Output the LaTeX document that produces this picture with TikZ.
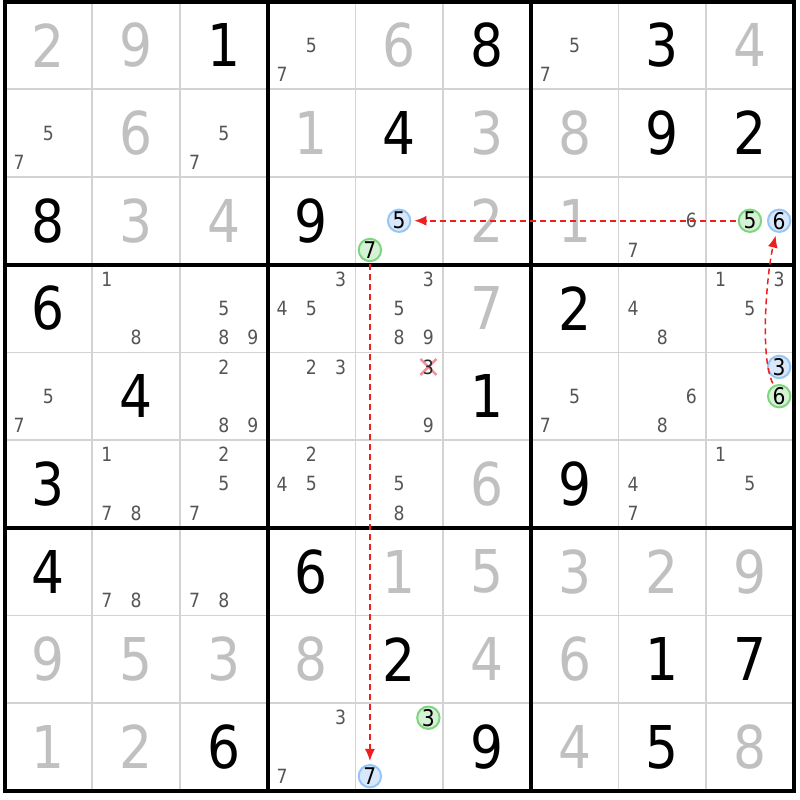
\documentclass[tikz,border=0pt]{standalone}
\usepackage{fontspec}
\setmainfont[FakeStretch=0.88]{DejaVu Sans}
\usetikzlibrary{arrows.meta,calc}
\definecolor{givgray}{RGB}{192,192,192}
\definecolor{candgray}{RGB}{85,85,85}
\definecolor{gridgray}{RGB}{211,211,211}
\definecolor{gfill}{RGB}{214,242,214}
\definecolor{gdraw}{RGB}{125,214,125}
\definecolor{bfill}{RGB}{216,232,250}
\definecolor{bdraw}{RGB}{150,198,245}
\definecolor{linkred}{RGB}{240,30,30}
\definecolor{crossred}{RGB}{245,140,150}
\begin{document}
\begin{tikzpicture}[x=0.5pt,y=-0.5pt,
  bigdig/.style={font=\fontsize{29.5}{30}\selectfont,inner sep=0pt},
  given/.style={bigdig,text=black},
  solved/.style={bigdig,text=givgray},
  cand/.style={font=\fontsize{9.8}{10}\selectfont,text=candgray,inner sep=0pt},
  circmark/.style={circle,line width=1pt,minimum size=11.2pt,inner sep=0pt,text=black,font=\fontsize{11.5}{12}\selectfont},
  gcirc/.style={circmark,draw=gdraw,fill=gfill},
  bcirc/.style={circmark,draw=bdraw,fill=bfill},
  link/.style={draw=linkred,dash pattern=on 3pt off 2pt,line width=0.75pt,-{Latex[length=6pt,width=5pt]},shorten >=1.5pt,shorten <=1pt},
  thinline/.style={draw=gridgray,line width=0.75pt},
  thickline/.style={draw=black,line width=2pt},
]
\useasboundingbox (0,0) rectangle (800,800);
\fill[white] (0,0) rectangle (800,800);
% grid
\foreach \i in {1,2,4,5,7,8}{
  \draw[thinline] ({4.5+\i*87.7},1.5) -- ({4.5+\i*87.7},790.8);
  \draw[thinline] (4.5,{1.5+\i*87.7}) -- (793.8,{1.5+\i*87.7});
}
\foreach \i in {3,6}{
  \draw[thickline] ({4.5+\i*87.7},1.5) -- ({4.5+\i*87.7},790.8);
  \draw[thickline] (4.5,{1.5+\i*87.7}) -- (793.8,{1.5+\i*87.7});
}
\draw[thickline] (4.5,1.5) rectangle (793.8,790.8);
% given digits
\foreach \r/\c/\d in {1/3/1,1/6/8,1/8/3,2/5/4,2/8/9,2/9/2,3/1/8,3/4/9,4/1/6,4/7/2,5/2/4,5/6/1,6/1/3,6/7/9,7/1/4,7/4/6,8/5/2,8/8/1,8/9/7,9/3/6,9/6/9,9/8/5}{
  \node[given] (v-\r-\c) at ({4.5+(\c-0.5)*87.7},{1.5+(\r-0.5)*87.7}) {\d};
}
% solved digits
\foreach \r/\c/\d in {1/1/2,1/2/9,1/5/6,1/9/4,2/2/6,2/4/1,2/6/3,2/7/8,3/2/3,3/3/4,3/6/2,3/7/1,4/6/7,6/6/6,7/5/1,7/6/5,7/7/3,7/8/2,7/9/9,8/1/9,8/2/5,8/3/3,8/4/8,8/6/4,8/7/6,9/1/1,9/2/2,9/7/4,9/9/8}{
  \node[solved] (v-\r-\c) at ({4.5+(\c-0.5)*87.7},{1.5+(\r-0.5)*87.7}) {\d};
}
% candidates
\foreach \r/\c/\d in {1/4/5,1/4/7,1/7/5,1/7/7,2/1/5,2/1/7,2/3/5,2/3/7,3/8/6,3/8/7,
  4/2/1,4/2/8,4/3/5,4/3/8,4/3/9,4/4/3,4/4/4,4/4/5,4/5/3,4/5/5,4/5/8,4/5/9,4/8/4,4/8/8,4/9/1,4/9/3,4/9/5,
  5/1/5,5/1/7,5/3/2,5/3/8,5/3/9,5/4/2,5/4/3,5/5/9,5/7/5,5/7/7,5/8/6,5/8/8,
  6/2/1,6/2/7,6/2/8,6/3/2,6/3/5,6/3/7,6/4/2,6/4/4,6/4/5,6/5/5,6/5/8,6/8/4,6/8/7,6/9/1,6/9/5,
  7/2/7,7/2/8,7/3/7,7/3/8,9/4/3,9/4/7}{
  \pgfmathsetmacro\px{4.5+(\c-0.5)*87.7+(mod(\d-1,3)-1)*29.23}
  \pgfmathsetmacro\py{1.5+(\r-0.5)*87.7+(floor((\d-1)/3)-1)*29.23}
  \node[cand] (c-\r-\c-\d) at (\px,\py) {\d};
}
% eliminated candidate
\coordinate (x3) at ({4.5+4.5*87.7+29.23},{1.5+4.5*87.7-29.23});
\draw[crossred,line width=1.2pt] ($(x3)+(-8,-8)$) -- ($(x3)+(8,8)$);
\draw[crossred,line width=1.2pt] ($(x3)+(-8,8)$) -- ($(x3)+(8,-8)$);
\node[cand,text=black!85] (c-5-5-3) at (x3) {3};
% marked candidates
\node[bcirc] (b5) at ({4.5+4.5*87.7},{1.5+2.5*87.7}) {5};
\node[gcirc] (g7) at ({4.5+4.5*87.7-29.23},{1.5+2.5*87.7+29.23}) {7};
\node[gcirc] (g5) at ({4.5+8.5*87.7},{1.5+2.5*87.7}) {5};
\node[bcirc] (b6) at ({4.5+8.5*87.7+29.23},{1.5+2.5*87.7}) {6};
\node[bcirc] (b3) at ({4.5+8.5*87.7+29.23},{1.5+4.5*87.7-29.23}) {3};
\node[gcirc] (g6) at ({4.5+8.5*87.7+29.23},{1.5+4.5*87.7}) {6};
\node[gcirc] (g3) at ({4.5+4.5*87.7+29.23},{1.5+8.5*87.7-29.23}) {3};
\node[bcirc] (b7) at ({4.5+4.5*87.7-29.23},{1.5+8.5*87.7+29.23}) {7};
% links
\draw[link] (g5) -- (b5);
\draw[link] (g7) -- (b7);
\draw[link] (g6) .. controls +(-20,-40) and +(-12,50) .. (b6);
\end{tikzpicture}
\end{document}
